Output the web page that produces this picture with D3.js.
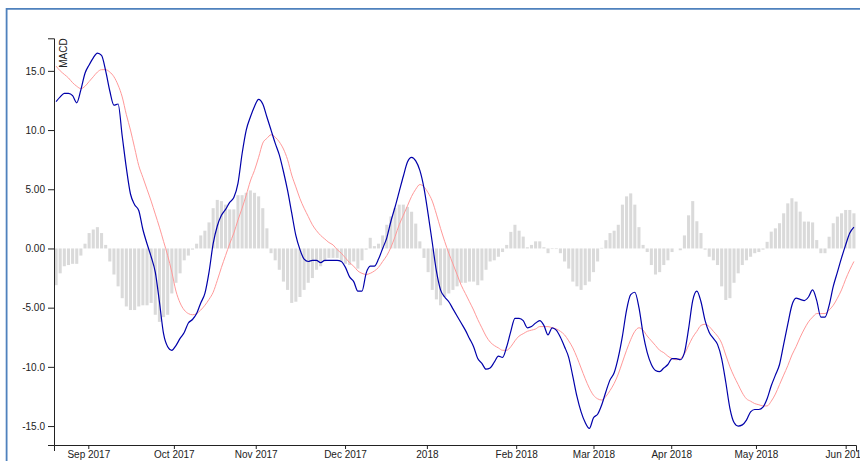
<!DOCTYPE html>
<html>
<head>
<meta charset="utf-8">
<script src="https://cdn.jsdelivr.net/npm/d3@7"></script>
<style>
  html, body { margin: 0; padding: 0; background: #fff; }
  svg { display: block; font-family: "Liberation Sans", Arial, sans-serif; }
  .axis text { font-size: 10px; fill: #222; }
  .axis path, .axis line { stroke: #222; }
</style>
</head>
<body>
<svg id="chart" width="860" height="461"></svg>
<script>
// ---- data ----
const tickLabels = ["Sep 2017","Oct 2017","Nov 2017","Dec 2017","2018","Feb 2018","Mar 2018","Apr 2018","May 2018","Jun 2018"];
const tickIndex  = [7.8, 28.5, 48.3, 69.9, 89.7, 111.3, 130, 148.8, 169.3, 191];
const yTicks = [-15, -10, -5, 0, 5, 10, 15];
const yDomain = [-16.6, 17.75];

const macd = [
 12.4,12.8,13.1,13.1,12.9,12.3,13.4,14.8,15.5,16.1,
 16.5,16.3,15.0,13.3,12.1,12.2,9.5,6.8,4.6,3.7,
 3.2,1.6,0.4,-0.7,-2.0,-4.5,-7.2,-8.3,-8.6,-8.2,
 -7.6,-7.1,-6.3,-6.0,-5.5,-4.6,-3.8,-2.0,0.4,1.9,
 2.8,3.3,3.9,4.3,5.5,8.0,10.0,11.1,12.0,12.6,
 12.2,11.1,10.0,8.9,7.9,6.5,4.9,3.0,1.1,-0.1,
 -0.9,-1.1,-1.0,-1.0,-1.2,-1.0,-1.0,-1.0,-1.0,-1.1,
 -1.6,-2.4,-2.8,-3.6,-3.6,-2.1,-1.5,-1.5,-0.9,0.0,
 0.9,2.3,3.5,4.8,6.1,7.3,7.7,7.4,6.6,5.1,
 2.9,0.5,-1.9,-3.5,-4.1,-4.5,-5.1,-5.7,-6.3,-6.9,
 -7.6,-8.3,-9.3,-9.7,-10.2,-10.1,-9.6,-9.1,-9.2,-8.3,
 -7.0,-5.9,-5.9,-6.1,-6.7,-6.6,-6.3,-6.1,-6.5,-7.3,
 -6.7,-6.9,-7.5,-8.3,-9.2,-10.8,-12.5,-13.8,-14.7,-15.2,
 -14.3,-14.0,-13.2,-12.1,-11.1,-10.5,-9.2,-7.4,-5.2,-3.9,
 -3.7,-5.0,-7.2,-8.8,-9.8,-10.3,-10.4,-10.1,-9.8,-9.3,
 -9.3,-9.4,-8.8,-6.8,-4.4,-3.6,-4.5,-6.1,-7.1,-7.6,
 -8.1,-9.3,-11.3,-13.5,-14.7,-15.0,-14.9,-14.5,-13.8,-13.6,
 -13.6,-13.4,-12.7,-11.6,-10.7,-9.8,-8.1,-6.4,-4.8,-4.2,
 -4.3,-4.4,-4.1,-3.5,-4.4,-5.8,-5.8,-4.8,-3.2,-2.0,
 -0.8,0.3,1.3,1.8
];

const signal = [
 15.4,15.0,14.7,14.4,14.0,13.7,13.5,13.7,14.1,14.5,
 14.9,15.1,15.1,14.9,14.5,13.8,12.8,11.3,10.0,8.5,
 7.0,6.0,5.0,4.0,2.9,1.8,0.6,-0.6,-2.0,-3.6,
 -4.6,-5.2,-5.5,-5.6,-5.5,-5.2,-4.8,-4.3,-3.7,-2.7,
 -1.6,-0.6,0.4,1.3,2.4,3.4,4.5,5.7,6.6,7.7,
 8.9,9.3,9.6,9.4,9.0,8.4,7.5,6.2,5.2,4.2,
 3.4,2.7,2.0,1.5,1.1,0.8,0.5,0.3,-0.1,-0.4,
 -0.8,-1.2,-1.5,-1.9,-2.1,-2.2,-2.1,-1.9,-1.6,-1.1,
 -0.6,0.1,1.0,2.0,2.8,3.6,4.4,5.0,5.4,5.2,
 4.7,4.0,2.9,1.7,0.6,-0.4,-1.3,-2.2,-3.1,-3.8,
 -4.5,-5.2,-6.0,-6.7,-7.4,-7.9,-8.2,-8.4,-8.6,-8.6,
 -8.3,-7.8,-7.4,-7.2,-7.0,-6.9,-6.8,-6.6,-6.6,-6.6,
 -6.7,-6.8,-7.0,-7.3,-7.8,-8.4,-9.2,-10.1,-11.0,-11.8,
 -12.4,-12.7,-12.8,-12.5,-12.0,-11.4,-10.6,-9.6,-8.6,-7.7,
 -7.0,-6.7,-6.9,-7.4,-7.8,-8.2,-8.6,-8.8,-9.1,-9.3,
 -9.4,-9.3,-8.9,-8.2,-7.5,-7.0,-6.5,-6.4,-6.6,-7.0,
 -7.4,-8.0,-9.0,-10.0,-10.8,-11.5,-12.2,-12.7,-12.9,-13.1,
 -13.2,-13.3,-13.3,-12.9,-12.3,-11.5,-10.7,-9.9,-9.0,-8.3,
 -7.5,-6.8,-6.2,-5.8,-5.5,-5.5,-5.5,-5.2,-4.8,-4.2,
 -3.5,-2.6,-1.8,-1.1
];

const histogram = [
 -3.1,-2.1,-1.5,-1.4,-1.3,-1.3,-0.6,0.4,1.3,1.6,
 1.8,1.3,0.3,-1.1,-2.2,-3.2,-4.2,-4.9,-5.2,-5.2,
 -4.9,-4.8,-4.8,-4.6,-5.6,-6.2,-5.8,-5.6,-3.8,-2.9,
 -2.1,-1.0,-0.6,-0.1,0.4,1.1,1.5,2.2,3.4,4.1,
 4.0,3.7,3.3,3.3,4.5,4.5,4.7,4.9,4.7,4.4,
 3.4,1.7,-0.4,-1.0,-1.8,-2.8,-3.5,-4.6,-4.5,-4.1,
 -3.5,-2.9,-2.5,-1.8,-1.5,-1.1,-0.8,-0.8,-0.8,-1.1,
 -1.3,-1.4,-1.1,-1.7,-1.0,-0.1,0.9,0.2,0.4,1.1,
 2.0,2.7,3.4,3.7,3.7,3.5,3.1,2.1,0.6,-0.8,
 -2.0,-3.5,-4.3,-4.8,-4.1,-3.8,-3.5,-3.2,-2.9,-2.9,
 -2.8,-2.8,-3.1,-2.7,-1.8,-1.1,-1.0,-0.7,-0.3,0.3,
 1.4,2.0,1.5,1.0,0.1,0.3,0.6,0.6,0.1,-0.4,
 -0.05,-0.05,-0.4,-1.1,-1.7,-2.8,-3.2,-3.5,-3.1,-2.8,
 -2.0,-1.1,0.05,0.7,1.3,1.5,2.0,3.7,4.4,4.65,
 3.7,1.8,0.3,-0.3,-1.4,-2.2,-2.0,-1.4,-1.0,-0.3,
 0,-0.15,1.1,2.8,4.0,2.3,1.3,-0.1,-0.7,-1.0,
 -1.4,-3.2,-4.35,-4.2,-2.9,-2.1,-1.4,-1.0,-0.7,-0.4,
 -0.3,-0.1,0.56,1.42,1.7,2.13,2.97,3.81,4.24,3.96,
 3.11,2.27,2.27,2.2,0.71,-0.4,-0.4,0.99,2.13,2.69,
 2.97,3.25,3.25,2.97
];

// ---- layout ----
const W = 860, H = 461;
const margin = {top: 38.3, right: 4, bottom: 16, left: 54};
const innerW = W - margin.left - margin.right;
const innerH = H - margin.top - margin.bottom;
const N = histogram.length;

const svg = d3.select("#chart");
svg.append("rect").attr("width", W).attr("height", H).attr("fill", "#fff");

// document frame (blue border, top and left)
svg.append("path")
  .attr("d", "M6.6," + H + "V8.9H" + W)
  .attr("fill", "none").attr("stroke", "#4f81bd").attr("stroke-width", 1.8);

const g = svg.append("g").attr("transform", `translate(${margin.left},${margin.top})`);

const x = d3.scaleLinear().domain([-0.5, N - 0.5]).range([0, innerW]);
const y = d3.scaleLinear().domain(yDomain).range([innerH, 0]);
const barW = (x(1) - x(0)) * 0.74;

// histogram (difference)
g.append("g").selectAll("rect").data(histogram).join("rect")
  .attr("x", (d, i) => x(i) - barW / 2)
  .attr("width", barW)
  .attr("y", d => y(Math.max(0, d)))
  .attr("height", d => Math.abs(y(d) - y(0)))
  .attr("fill", "#BBBBBB").attr("opacity", 0.55);

const line = d3.line().x((d, i) => x(i)).y(d => y(d)).curve(d3.curveMonotoneX);

g.append("path").datum(signal).attr("d", line)
  .attr("fill", "none").attr("stroke", "#FF9999").attr("stroke-width", 1);
g.append("path").datum(macd).attr("d", line)
  .attr("fill", "none").attr("stroke", "#0000AA").attr("stroke-width", 1.2);

// axes
const loc = d3.formatLocale({decimal: ".", thousands: ",", grouping: [3], currency: ["$", ""], minus: "-"});
const fmt = loc.format(".3r");

const xAxis = g.append("g").attr("class", "axis")
  .attr("transform", `translate(0,${innerH})`)
  .call(d3.axisBottom(x).tickValues(tickIndex).tickFormat((d, i) => tickLabels[i]).tickSizeInner(4).tickPadding(2));
xAxis.selectAll("text").style("font-size", "10px");

const yAxis = g.append("g").attr("class", "axis")
  .call(d3.axisLeft(y).tickValues(yTicks).tickFormat(fmt));
yAxis.selectAll("text").style("font-size", "10px");

yAxis.append("text")
  .attr("transform", "rotate(-90)")
  .attr("y", 6).attr("dy", ".71em")
  .style("text-anchor", "end")
  .attr("fill", "#222")
  .style("font-size", "10px")
  .text("MACD");
</script>
</body>
</html>
